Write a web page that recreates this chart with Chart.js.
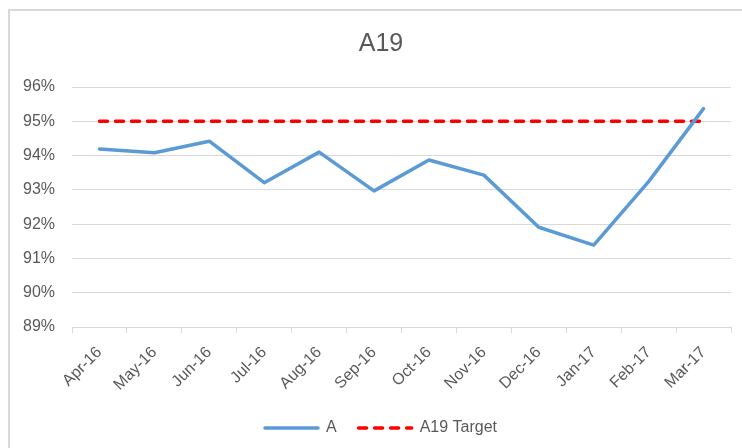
<!DOCTYPE html>
<html>
<head>
<meta charset="utf-8">
<script src="https://cdn.jsdelivr.net/npm/chart.js@4/dist/chart.umd.min.js"></script>
<style>
  html, body { margin: 0; padding: 0; background: #ffffff; }
  #wrap { position: relative; width: 742px; height: 448px; }
</style>
</head>
<body>
<div id="wrap"><canvas id="c" width="742" height="448"></canvas></div>
<script>
const categories = ["Apr-16","May-16","Jun-16","Jul-16","Aug-16","Sep-16","Oct-16","Nov-16","Dec-16","Jan-17","Feb-17","Mar-17"];
const seriesA = [0.9419, 0.9408, 0.9442, 0.9321, 0.9410, 0.9297, 0.9387, 0.9343, 0.9191, 0.9139, 0.9324, 0.9537];
const targetA19 = [0.95, 0.95, 0.95, 0.95, 0.95, 0.95, 0.95, 0.95, 0.95, 0.95, 0.95, 0.95];
const yMin = 0.89, yMax = 0.96, yStep = 0.01;

const FONT = "'Liberation Sans', Arial, sans-serif";
const GRAY = '#595959';
const GRID = '#d9d9d9';

const frame = {
  id: 'frame',
  beforeDraw(chart) {
    const ctx = chart.ctx;
    ctx.save();
    ctx.fillStyle = '#ffffff';
    ctx.fillRect(0, 0, chart.width, chart.height);
    ctx.fillStyle = GRID;
    ctx.fillRect(8, 9, 2, chart.height - 9);
    ctx.fillRect(8, 9, chart.width - 8, 2);
    ctx.restore();
  }
};

new Chart(document.getElementById('c'), {
  type: 'line',
  data: {
    labels: categories,
    datasets: [
      {
        label: 'A',
        data: seriesA,
        borderColor: '#5b9bd5',
        backgroundColor: '#5b9bd5',
        borderWidth: 3.5,
        borderJoinStyle: 'round',
        borderCapStyle: 'round',
        pointRadius: 0,
        pointHoverRadius: 0,
        tension: 0,
        fill: false
      },
      {
        label: 'A19 Target',
        data: targetA19,
        borderColor: '#ff0000',
        backgroundColor: '#ff0000',
        borderWidth: 3.5,
        borderDash: [8, 8],
        borderCapStyle: 'round',
        pointRadius: 0,
        pointHoverRadius: 0,
        tension: 0,
        fill: false
      }
    ]
  },
  options: {
    responsive: false,
    animation: false,
    devicePixelRatio: 1,
    layout: { padding: { left: 15, right: -5, top: 0, bottom: 2 } },
    plugins: {
      title: {
        display: true,
        text: 'A19',
        color: GRAY,
        font: { family: FONT, size: 25, weight: 'normal' },
        padding: { top: 29, bottom: 28 }
      },
      legend: {
        display: true,
        position: 'bottom',
        labels: {
          color: GRAY,
          font: { family: FONT, size: 16 },
          usePointStyle: true,
          pointStyle: 'line',
          pointStyleWidth: 53,
          boxWidth: 53,
          padding: 22,
          generateLabels(chart) {
            const items = Chart.defaults.plugins.legend.labels.generateLabels(chart);
            items.forEach((it) => {
              const ds = chart.data.datasets[it.datasetIndex];
              it.lineDash = ds.borderDash || [];
              it.lineWidth = ds.borderWidth;
              it.strokeStyle = ds.borderColor;
              it.fillStyle = ds.borderColor;
              it.lineCap = 'round';
              it.pointStyle = 'line';
            });
            return items;
          }
        }
      },
      tooltip: { enabled: false }
    },
    scales: {
      x: {
        offset: true,
        afterFit(scale) { scale.height = 71; },
        grid: {
          offset: true,
          drawOnChartArea: false,
          drawTicks: true,
          tickLength: 6,
          color: GRID
        },
        border: { display: true, color: GRID, width: 1 },
        ticks: {
          autoSkip: false,
          minRotation: 45,
          maxRotation: 45,
          labelOffset: 0,
          padding: 10,
          color: GRAY,
          font: { family: FONT, size: 16 }
        }
      },
      y: {
        min: yMin,
        max: yMax,
        afterFit(scale) { scale.width = 57; },
        grid: { color: GRID, drawTicks: false },
        border: { display: false },
        ticks: {
          stepSize: yStep,
          padding: 17,
          color: GRAY,
          font: { family: FONT, size: 16 },
          callback: (v) => Math.round(v * 100) + '%'
        }
      },
      yRight: {
        type: 'linear',
        position: 'right',
        display: true,
        afterFit(scale) { scale.width = 16; },
        grid: { display: false, drawOnChartArea: false, drawTicks: false },
        border: { display: false },
        ticks: { display: false }
      }
    }
  },
  plugins: [frame]
});
</script>
</body>
</html>
